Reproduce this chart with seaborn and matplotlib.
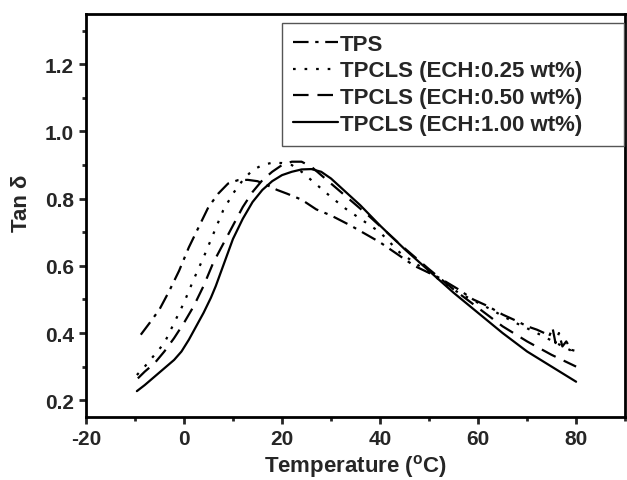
import matplotlib
matplotlib.use('Agg')
import matplotlib.pyplot as plt
import seaborn as sns

# %% dados (Tan delta x temperatura)
x_tps = [-8.8, -7, -5, -3, -1, 1, 3, 5, 7, 9, 11, 13, 15, 17, 19, 21, 24, 27,
         30, 34, 40, 47, 52, 56, 59, 62, 65, 68, 70, 72, 73.5, 74.5, 75.2,
         75.8, 76.5, 77.2, 78, 79, 80.3]
y_tps = [0.395, 0.43, 0.47, 0.525, 0.585, 0.655, 0.715, 0.775, 0.815, 0.845,
         0.855, 0.856, 0.852, 0.84, 0.826, 0.815, 0.797, 0.768, 0.75, 0.72,
         0.67, 0.60, 0.565, 0.53, 0.50, 0.48, 0.455, 0.435, 0.42, 0.41, 0.40,
         0.39, 0.415, 0.37, 0.40, 0.36, 0.375, 0.35, 0.345]

x_025 = [-9.6, -8, -6, -4, -2, 0, 2, 4, 6, 8, 10, 12, 14, 16, 18, 20, 22, 24,
         26, 28, 30, 33, 36, 40, 44, 50, 56, 62, 67, 72, 76, 80]
y_025 = [0.275, 0.30, 0.335, 0.37, 0.43, 0.49, 0.56, 0.625, 0.695, 0.765,
         0.815, 0.855, 0.885, 0.90, 0.907, 0.906, 0.90, 0.88, 0.855, 0.83,
         0.805, 0.77, 0.74, 0.70, 0.64, 0.58, 0.52, 0.475, 0.435, 0.40, 0.37,
         0.34]

x_050 = [-9.4, -8, -6, -4, -2, 0, 2, 4, 6, 8, 10, 12, 14, 16, 18, 20, 22, 24,
         26, 28, 30, 34, 38, 44, 50, 55, 60, 65, 70, 75, 80]
y_050 = [0.265, 0.285, 0.31, 0.345, 0.385, 0.43, 0.48, 0.54, 0.61, 0.665,
         0.72, 0.775, 0.82, 0.855, 0.88, 0.90, 0.91, 0.91, 0.895, 0.87, 0.845,
         0.795, 0.745, 0.665, 0.59, 0.53, 0.475, 0.42, 0.375, 0.335, 0.30]

x_100 = [-9.6, -8, -6, -4, -2, -0.5, 1, 2.5, 4, 5.5, 6.5, 8, 10, 12, 14, 16,
         18, 20, 22, 24, 26, 28, 30, 33, 36, 40, 45, 50, 55, 60, 65, 70, 75,
         80]
y_100 = [0.227, 0.245, 0.27, 0.295, 0.32, 0.345, 0.38, 0.42, 0.46, 0.505,
         0.54, 0.60, 0.68, 0.74, 0.79, 0.826, 0.852, 0.87, 0.88, 0.887, 0.888,
         0.88, 0.86, 0.82, 0.78, 0.72, 0.65, 0.585, 0.52, 0.46, 0.40, 0.345,
         0.30, 0.255]

rotulos = ['TPS', 'TPCLS (ECH:0.25 wt%)', 'TPCLS (ECH:0.50 wt%)',
           'TPCLS (ECH:1.00 wt%)']

# %% estilo
sns.set_style('ticks')
plt.rcParams['font.family'] = ['Liberation Sans', 'DejaVu Sans']
plt.rcParams['font.weight'] = 'bold'
plt.rcParams['axes.labelweight'] = 'bold'
plt.rcParams['mathtext.default'] = 'regular'
plt.rcParams['axes.unicode_minus'] = False

fig = plt.figure(figsize=(6.27, 4.81), dpi=100)
ax = fig.add_axes([0.137, 0.131, 0.860, 0.838])

estilos = [(0, (7, 3, 1.5, 3)), (0, (1.2, 4)), (0, (7, 4)), '-']
series = [(x_tps, y_tps), (x_025, y_025), (x_050, y_050), (x_100, y_100)]

for (xs, ys), rot, ls in zip(series, rotulos, estilos):
    sns.lineplot(x=xs, y=ys, ax=ax, color='black', linewidth=1.6,
                 linestyle=ls, label=rot, sort=False, estimator=None)

ax.set_xlim(-20, 90)
ax.set_ylim(0.15, 1.35)
ax.set_xticks([-20, 0, 20, 40, 60, 80])
ax.set_xticks([-10, 10, 30, 50, 70, 90], minor=True)
ax.set_yticks([0.2, 0.4, 0.6, 0.8, 1.0, 1.2])
ax.set_yticks([0.3, 0.5, 0.7, 0.9, 1.1, 1.3], minor=True)
ax.tick_params(axis='both', which='major', direction='out', length=5,
               width=2, labelsize=15)
ax.tick_params(axis='both', which='minor', direction='out', length=3,
               width=2)
for lado in ['top', 'right', 'left', 'bottom']:
    ax.spines[lado].set_linewidth(2)
    ax.spines[lado].set_color('black')

ax.set_xlabel('Temperature ($^\\mathregular{o}$C)', fontsize=16,
              fontweight='bold', labelpad=3)
ax.set_ylabel('Tan δ', fontsize=16, fontweight='bold')
ax.yaxis.set_label_coords(-0.100, 0.533)

# legenda com caixa mais larga (como no original)
leg = ax.legend(loc='upper left', bbox_to_anchor=(0.364, 0.67, 0.634, 0.308),
                mode='expand', borderaxespad=0, fontsize=16,
                handlelength=2.0, handletextpad=0.1, labelspacing=0.25,
                borderpad=0.5, fancybox=False, framealpha=1,
                edgecolor='#555555')
leg.get_frame().set_linewidth(1.0)

fig.savefig('out.png', dpi=100)
